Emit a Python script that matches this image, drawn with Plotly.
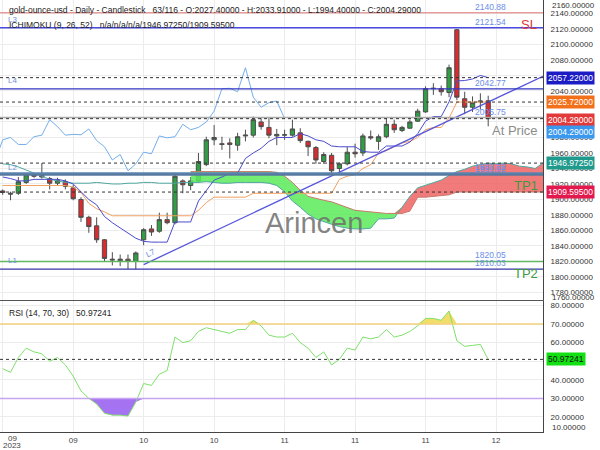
import numpy as np
import plotly.graph_objects as go

# ---------------- data ----------------
bars = list(range(63))
open_ = [1911, 1908, 1908, 1922, 1932, 1931, 1927, 1921, 1923, 1915, 1900, 1877, 1866, 1848, 1823, 1821, 1823, 1820,
         1848, 1862, 1859, 1874, 1870, 1924, 1918, 1924, 1945, 1977, 1972, 1973, 1970, 1982, 1983, 2000, 1993, 1982,
         1983, 1983, 1986, 1975, 1967, 1949, 1957, 1940, 1946, 1961, 1960, 1981, 1975, 1981, 1997, 1989, 1992, 2001,
         2013, 2043, 2043, 2038, 2119, 2030, 2019, 2026, 2027.4]
high = [1913, 1910, 1929, 1934, 1934, 1947, 1929, 1928, 1926, 1919, 1903, 1879, 1877, 1849, 1832, 1829, 1829, 1833,
        1863, 1867, 1883, 1883, 1932, 1926, 1929, 1960, 1981, 1996, 1981, 1979, 1986, 1990, 2007, 2005, 2005, 1991,
        1990, 2003, 1992, 1976, 1969, 1961, 1960, 1948, 1968, 1972, 1985, 1989, 1984, 2005, 2003, 1995, 2003, 2017,
        2046, 2050, 2047, 2074, 2120, 2039, 2033, 2037, 2033.91]
low = [1906, 1899, 1906, 1920, 1928, 1927, 1913, 1918, 1913, 1899, 1871, 1857, 1844, 1820, 1815, 1814, 1810, 1810,
       1841, 1853, 1857, 1868, 1868, 1908, 1912, 1922, 1943, 1970, 1964, 1953, 1963, 1975, 1980, 1990, 1979, 1970,
       1977, 1981, 1973, 1956, 1946, 1946, 1933, 1934, 1944, 1954, 1956, 1977, 1964, 1979, 1986, 1987, 1991, 2000,
       2012, 2035, 2034, 2032, 2028, 2010, 2013, 2016, 1994.4]
close = [1909, 1907, 1923, 1932, 1930, 1929, 1921, 1925, 1917, 1901, 1877, 1865, 1848, 1824, 1822, 1823, 1820, 1831,
         1861, 1858, 1874, 1870, 1930, 1919, 1924, 1949, 1977, 1980, 1971, 1971, 1981, 1983, 2003, 1994, 1983, 1984,
         1983.5, 1991, 1976, 1968, 1951, 1958, 1937, 1946, 1961, 1959, 1982, 1979.5, 1981, 1997, 1990, 1993, 2000,
         2014, 2043, 2043.5, 2039, 2070, 2032, 2019, 2025, 2027, 2004.29]

tenkan = [1929, 1927, 1924, 1924, 1926, 1926, 1926, 1926, 1924, 1920, 1910, 1900, 1893, 1878, 1870, 1863, 1856, 1850,
          1846, 1845, 1845, 1845, 1871, 1871, 1871, 1898, 1911, 1925, 1929, 1934, 1934, 1953, 1960, 1966, 1975, 1980,
          1980, 1980, 1985, 1982, 1977, 1975, 1969, 1968, 1968, 1968, 1962, 1961, 1961, 1969, 1969, 1969, 1974, 1985,
          2001, 2007, 2007, 2026, 2053, 2053.5, 2055.5, 2060, 2057.22]
kijun = [1918, 1918, 1918, 1918, 1918, 1918, 1918, 1918, 1918, 1916, 1909, 1895, 1888, 1884, 1879, 1879, 1879, 1879,
         1879, 1879, 1879, 1879, 1879, 1879, 1879, 1886, 1896, 1903, 1903, 1903, 1903, 1903, 1908, 1908, 1908, 1908,
         1908, 1908, 1908, 1908, 1908, 1908, 1908, 1926, 1930, 1932, 1940, 1945, 1960, 1963, 1968, 1973, 1975, 1980,
         1990, 1993, 1993, 2005, 2025.72, 2025.72, 2025.72, 2025.72, 2025.72]

span_bars = list(range(70))
span_a = [1946, 1945, 1942, 1938, 1933, 1929, 1926, 1924, 1922, 1921, 1921, 1921, 1922, 1921, 1920, 1920, 1921, 1921,
          1922, 1922, 1921, 1921, 1921, 1922, 1922, 1922, 1923, 1922, 1921, 1921, 1922, 1922, 1922, 1922, 1921, 1918,
          1910, 1898, 1890, 1881, 1875, 1871, 1868, 1865, 1863, 1862, 1862, 1863, 1875, 1875, 1876, 1890, 1904, 1915,
          1918, 1922, 1925, 1931, 1936, 1939, 1943, 1945, 1946.97, 1946, 1947, 1946, 1943, 1942, 1940, 1947]
cloud_bars = list(range(24, 70))
span_b = [1936, 1936, 1936, 1936, 1936, 1936, 1936, 1936, 1936, 1936, 1936, 1935, 1930, 1922, 1912, 1904, 1901, 1899,
          1897, 1893, 1889, 1886, 1885, 1884, 1883, 1882, 1882, 1882, 1885, 1903, 1903, 1904, 1905, 1906, 1909.6,
          1909.6, 1909.6, 1909.6, 1909.6, 1909.6, 1909.6, 1909.6, 1909.6, 1909.6, 1909.6, 1909.6]

rsi = [46, 44, 52, 57, 55, 54, 50, 52, 48, 42, 34, 30, 27, 22, 21, 21, 20.5, 28, 38, 37, 43, 45, 63, 60, 61, 66, 68,
       67, 66, 65, 67, 67, 72, 69, 64, 63, 63, 65, 60, 57, 52, 55, 48, 51, 57, 56, 63, 62, 63, 67, 63, 64, 66, 69, 73,
       73, 72, 77, 61, 58, 58.5, 59, 50.97241]

trend_x = [18, 69]
trend_y = [1816, 2059]

# price levels
level_vals = [2140.88, 2121.54, 2057.22, 2042.77, 2025.72, 2005.75, 2004.29, 1946.9725, 1933.72, 1931.92,
              1909.595, 1820.05, 1810.03]
level_colors = ["#e07272", "#4b4be0", "#333333", "#3434c4", "#333333", "#aaaaaa", "#333333", "#333333",
                "#5b84b1", "#56799f", "#333333", "#62b862", "#3535a8"]
level_widths = [1, 1.5, 1, 1.2, 1, 1.5, 1, 1, 2, 2, 1, 1.5, 1.2]
level_dash = ["solid", "solid", "3px,3px", "solid", "3px,3px", "solid", "3px,3px", "3px,3px", "solid", "solid",
              "3px,3px", "solid", "solid"]
value_labels = ["2140.88", "2121.54", "2042.77", "2005.75", "1933.72", "1931.92", "1820.05", "1810.03"]

main_ticks = [1780, 1800, 1820, 1840, 1860, 1880, 1900, 1920, 1940, 1960, 1980, 2000, 2020, 2040, 2060, 2080, 2100,
              2120, 2140]
covered_ticks = [2000, 2020, 2060]          # hidden behind the value tags in the reference
rsi_ticks = [20, 30, 40, 50, 60, 70, 80]
x_tickvals = [0, 9, 18, 27, 36, 45, 54, 63]
x_ticktext = ["09<br>2023", "09", "10", "10", "11", "11", "11", "12"]

# ---------------- layout helpers ----------------
FW, FH = 600, 450
def px(x):
    return x / FW
def py(y):
    return 1 - y / FH

FONT = "Liberation Sans, Arial, sans-serif"
fig = go.Figure()

# cloud fills
a_c = np.array(span_a[24:], dtype=float)
b_c = np.array(span_b, dtype=float)
upper = np.maximum(a_c, b_c)
fig.add_trace(go.Scatter(x=cloud_bars, y=a_c, mode="lines", line=dict(width=0), hoverinfo="skip", showlegend=False))
fig.add_trace(go.Scatter(x=cloud_bars, y=upper, mode="lines", line=dict(width=0), fill="tonexty",
                         fillcolor="rgba(90,235,90,0.85)", hoverinfo="skip", showlegend=False))
fig.add_trace(go.Scatter(x=cloud_bars, y=b_c, mode="lines", line=dict(width=0), hoverinfo="skip", showlegend=False))
fig.add_trace(go.Scatter(x=cloud_bars, y=upper, mode="lines", line=dict(width=0), fill="tonexty",
                         fillcolor="rgba(238,100,100,0.85)", hoverinfo="skip", showlegend=False))
# span lines
fig.add_trace(go.Scatter(x=span_bars, y=span_a, mode="lines", line=dict(color="#4fa7a0", width=1), showlegend=False))
fig.add_trace(go.Scatter(x=cloud_bars, y=span_b, mode="lines", line=dict(color="#c97a6a", width=1), showlegend=False))
# chikou (close shifted back 26)
fig.add_trace(go.Scatter(x=[b - 26 for b in bars], y=close, mode="lines",
                         line=dict(color="#74aeea", width=1), showlegend=False))
fig.add_trace(go.Scatter(x=bars, y=kijun, mode="lines", line=dict(color="#f2a060", width=1), showlegend=False))
fig.add_trace(go.Scatter(x=bars, y=tenkan, mode="lines", line=dict(color="#4b4bcf", width=1), showlegend=False))
fig.add_trace(go.Scatter(x=trend_x, y=trend_y, mode="lines", line=dict(color="#5656dc", width=1.3), showlegend=False))

fig.add_trace(go.Candlestick(x=bars, open=open_, high=high, low=low, close=close,
                             increasing=dict(fillcolor="#2f9e44", line=dict(color="#4d4d4d", width=1)),
                             decreasing=dict(fillcolor="#dc2b2e", line=dict(color="#4d4d4d", width=1)),
                             showlegend=False))

# RSI
rsi_a = np.array(rsi, dtype=float)
fig.add_trace(go.Scatter(x=bars, y=[70] * len(bars), mode="lines", line=dict(width=0), xaxis="x2", yaxis="y2",
                         hoverinfo="skip", showlegend=False))
fig.add_trace(go.Scatter(x=bars, y=np.maximum(rsi_a, 70), mode="lines", line=dict(width=0), fill="tonexty",
                         fillcolor="rgba(238,215,80,0.85)", xaxis="x2", yaxis="y2", hoverinfo="skip",
                         showlegend=False))
fig.add_trace(go.Scatter(x=bars, y=[30] * len(bars), mode="lines", line=dict(width=0), xaxis="x2", yaxis="y2",
                         hoverinfo="skip", showlegend=False))
fig.add_trace(go.Scatter(x=bars, y=np.minimum(rsi_a, 30), mode="lines", line=dict(width=0), fill="tonexty",
                         fillcolor="rgba(155,100,240,0.9)", xaxis="x2", yaxis="y2", hoverinfo="skip",
                         showlegend=False))
fig.add_trace(go.Scatter(x=bars, y=rsi, mode="lines", line=dict(color="#7ee06a", width=1), xaxis="x2", yaxis="y2",
                         showlegend=False))

shapes = []
for v, c, w, d in zip(level_vals, level_colors, level_widths, level_dash):
    shapes.append(dict(type="line", xref="x domain", x0=0, x1=1, yref="y", y0=v, y1=v,
                       line=dict(color=c, width=w, dash=d), layer="above"))
shapes.append(dict(type="line", xref="x2 domain", x0=0, x1=1, yref="y2", y0=70, y1=70,
                   line=dict(color="#f4d27c", width=1.5)))
shapes.append(dict(type="line", xref="x2 domain", x0=0, x1=1, yref="y2", y0=30, y1=30,
                   line=dict(color="#c6a4f2", width=1.5)))
shapes.append(dict(type="line", xref="x2 domain", x0=0, x1=1, yref="y2", y0=rsi[-1], y1=rsi[-1],
                   line=dict(color="#333333", width=1, dash="3px,3px")))

ann = []
def text(x, y, t, size=8, color="#222", anchor="left", **kw):
    ann.append(dict(xref="paper", yref="paper", x=px(x), y=py(y), text=t, showarrow=False,
                    xanchor=anchor, yanchor="middle", font=dict(family=FONT, size=size, color=color), **kw))

text(7, 10, "gold-ounce-usd - Daily - Candlestick&nbsp;&nbsp;&nbsp;63/116 - O:2027.40000 - H:2033.91000 - L:1994.40000 - C:2004.29000", 8.5)
text(7, 25.5, "ICHIMOKU (9, 26, 52)&nbsp;&nbsp;&nbsp;n/a/n/a/n/a/1946.97250/1909.59500", 8.5)
text(7, 312.5, "RSI (14, 70, 30)&nbsp;&nbsp;&nbsp;50.97241", 8.5)

# value labels on levels
for lab in value_labels:
    ann.append(dict(xref="paper", yref="y", x=px(508), y=float(lab), yshift=6, text=lab, showarrow=False,
                    xanchor="right", yanchor="middle", font=dict(family=FONT, size=8.5, color="#6b8ee8")))

text(529, 24, "SL", 13, "#e03a3a", "center")
text(526, 185, "TP1", 13, "#3f9a3f", "center")
text(526, 273, "TP2", 13, "#3f9a3f", "center")
text(514.5, 130, "At Price", 13, "#8c8c8c", "center")
text(314, 223, "Arincen", 29, "rgba(110,110,110,0.85)", "center")
text(6, 19, "L3", 8, "#6f8fe0")
text(6, 80, "L4", 8, "#6f8fe0")
text(6, 167, "L2", 8, "#6f8fe0")
text(6, 260, "L1", 8, "#6f8fe0")
ann.append(dict(xref="paper", yref="paper", x=px(150), y=py(253.5), text="L7", showarrow=False, textangle=-25,
                xanchor="center", yanchor="middle", font=dict(family=FONT, size=8, color="#6f8fe0")))

# first x label (kept inside the picture) and clamped axis labels
first_lines = x_ticktext[0].split("<br>")
text(12, 438, first_lines[0], 8, "#444", "center")
text(12, 445.5, first_lines[1], 8, "#444", "center")
text(550, 6, "2160.00000", 8, "#333")
text(550, 297.5, "1760.00000", 8, "#333")
text(550, 427, "10.00000", 8, "#333")

# axis value tags
def tag(val, t, bg, fg="white", yref="y", yshift=0):
    ann.append(dict(xref="paper", yref=yref, x=px(546), y=val, yshift=yshift, text=t, showarrow=False,
                    xanchor="left", yanchor="middle", bgcolor=bg, borderpad=1,
                    font=dict(family=FONT, size=8.5, color=fg)))

tag(2057.22, "2057.22000", "#1c1cc4")
tag(2025.72, "2025.72000", "#f2701a")
tag(2004.29, "2004.29000", "#e23a3a", yshift=-1)
tag(2004.29, "2004.29000", "#3a98ee", yshift=-13)
tag(1946.9725, "1946.97250", "#1f9a8c")
tag(1909.595, "1909.59500", "#e3184c")
tag(rsi[-1], "50.97241", "#12e012", fg="#111", yref="y2")

main_ticktext = ["" if v in covered_ticks else f"{v:.5f}" for v in main_ticks]
bottom_ticktext = [""] + x_ticktext[1:]

fig.update_layout(
    width=FW, height=FH, margin=dict(l=0, r=0, t=0, b=0),
    paper_bgcolor="white", plot_bgcolor="white",
    font=dict(family=FONT, size=8, color="#333"),
    showlegend=False, boxgap=0.22,
    xaxis=dict(domain=[0, px(543)], range=[-0.345, 69.0], anchor="y", tickvals=x_tickvals,
               showticklabels=False, showgrid=True, gridcolor="#ececec", zeroline=False,
               showline=True, linecolor="#555", linewidth=1, rangeslider=dict(visible=False), fixedrange=True),
    yaxis=dict(domain=[py(300), 1], range=[1770.3, 2157.4], side="right", anchor="x", tickvals=main_ticks,
               ticktext=main_ticktext, showgrid=True, gridcolor="#ececec", zeroline=False,
               showline=True, linecolor="#444", linewidth=1, ticklabelstandoff=5, automargin=False,
               tickfont=dict(size=8, color="#333")),
    xaxis2=dict(domain=[0, px(543)], range=[-0.345, 69.0], anchor="y2", matches="x", tickvals=x_tickvals,
                ticktext=bottom_ticktext, showgrid=True, gridcolor="#ececec", zeroline=False, showline=True,
                linecolor="#444", linewidth=1, tickfont=dict(size=8, color="#444"), automargin=False,
                ticklabelstandoff=0),
    yaxis2=dict(domain=[py(432.3), py(301)], range=[11.77, 82.37], side="right", anchor="x2",
                tickvals=rsi_ticks, ticktext=[f"{v:.5f}" for v in rsi_ticks], showgrid=True, gridcolor="#ececec",
                zeroline=False, showline=True, linecolor="#444", linewidth=1, ticklabelstandoff=5,
                automargin=False, tickfont=dict(size=8, color="#333")),
    shapes=shapes, annotations=ann,
)

fig.write_html("out.html", config={"displayModeBar": False})
